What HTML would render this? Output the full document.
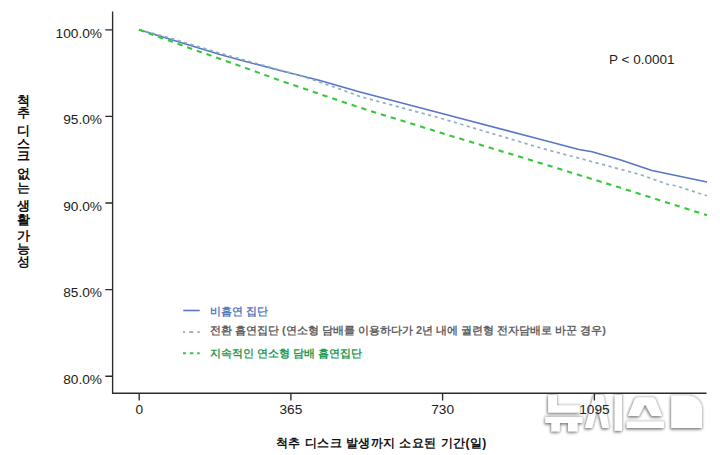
<!DOCTYPE html>
<html><head><meta charset="utf-8">
<style>
html,body{margin:0;padding:0;background:#fff;}
body{width:720px;height:455px;position:relative;overflow:hidden;font-family:"Liberation Sans",sans-serif;color:#222;}
.t{position:absolute;white-space:nowrap;line-height:1;}
.yl{font-size:13.7px;text-align:right;width:60px;left:42px;}
.xl{font-size:13.7px;text-align:center;width:60px;}
.vc{position:absolute;left:16.3px;font-size:12.8px;font-weight:bold;line-height:1;width:14px;text-align:center;color:#111;}
.lg{position:absolute;left:210px;font-size:11px;font-weight:bold;white-space:nowrap;line-height:1;transform-origin:0 0;}
svg{position:absolute;left:0;top:0;}
</style></head><body>
<svg width="720" height="455" viewBox="0 0 720 455">
  <defs><filter id="sh" x="-20%" y="-30%" width="140%" height="160%"><feGaussianBlur in="SourceAlpha" stdDeviation="1.6"/><feOffset dx="-1" dy="1.6" result="b"/><feFlood flood-color="#000" flood-opacity="0.33"/><feComposite in2="b" operator="in" result="s1"/><feMorphology in="SourceAlpha" operator="dilate" radius="0.6"/><feGaussianBlur stdDeviation="0.9" result="g"/><feFlood flood-color="#000" flood-opacity="0.26"/><feComposite in2="g" operator="in" result="s2"/><feMerge><feMergeNode in="s1"/><feMergeNode in="s2"/><feMergeNode in="SourceGraphic"/></feMerge></filter></defs>
  <g fill="#fff" filter="url(#sh)">
    <path d="M548.2 395 H557 V405.4 H579.6 V412.5 H548.2 Z"/>
    <path d="M545.5 417 H582.3 V423 H577.4 V431.2 H568 V423 H559.8 V431.2 H551.5 V423 H545.5 Z"/>
    <path d="M585 428 L593.5 396.5 Q594 395 596 395 H601 Q603 395 603.5 396.5 L609 428 H602.5 L597.5 407 L592 428 Z"/>
    <path d="M614.8 395 H622 V430.7 H614.8 Z"/>
    <path d="M628.1 416.1 L635 399 Q636.2 397.4 638 397.4 H652 Q653.8 397.4 655 399 L661.9 416.1 H651.9 L645 404.3 L638.8 416.1 Z"/>
    <path d="M626.9 421.8 H663.8 V428 H626.9 Z"/>
    <path d="M671.3 395.8 H687.5 A14.5 14.5 0 0 1 702 410.3 V428 H671.3 Z"/>
  </g>
  <g stroke="#2b2b2b" stroke-width="1.35" fill="none">
    <path d="M112.6 11.6 V393.8 M111.95 393.2 H706.5"/>
    <path d="M105.3 29.8 H112.6 M105.3 116.4 H112.6 M105.3 203 H112.6 M105.3 289.6 H112.6 M105.3 376.2 H112.6"/>
    <path d="M139.2 393.2 V400.5 M290.9 393.2 V400.5 M442.6 393.2 V400.5 M594.4 393.2 V400.5"/>
  </g>
  <!-- blue solid -->
  <polyline fill="none" stroke="#5876c6" stroke-width="1.55" stroke-linejoin="round"
    points="139.2,29.7 180,42.3 220,54.6 240,59.9 280,70.6 320,80.6 360,92.1 440,113.1 540,139.2 579,149.5 592,151.8 620,159.7 640,166.5 652,170.6 707,181.9"/>
  <!-- dotted light blue/gray -->
  <polyline fill="none" stroke="#93afc0" stroke-width="1.7" stroke-dasharray="3.2 3.5"
    points="139,29.5 168,37.4 220,53.2 300,75.6 320,82.2 340,89.1 360,96.5 440,118 540,147.8 640,174.5 668,184.5 676,185.8 707,195.8"/>
  <!-- green dashed -->
  <polyline fill="none" stroke="#35c83a" stroke-width="2.1" stroke-dasharray="5.3 4.95"
    points="139,29.7 168,40.3 187,47.2 236,64.5 280,80.5 360,107.7 440,132.5 540,163 620,187.6 707,215.3"/>
  <!-- legend lines -->
  <path d="M183.3 310.5 H199.7" stroke="#5876c6" stroke-width="1.6" />
  <path d="M183 332.2 H199.7" stroke="#98a8b0" stroke-width="1.7" stroke-dasharray="4 4.2" stroke-dashoffset="2"/>
  <path d="M183 353.2 H199.7" stroke="#35c83a" stroke-width="2" stroke-dasharray="3.5 3.8" stroke-dashoffset="0.5"/>
</svg>

<div class="t yl" style="top:26.5px;">100.0%</div>
<div class="t yl" style="top:113.1px;">95.0%</div>
<div class="t yl" style="top:199.7px;">90.0%</div>
<div class="t yl" style="top:286.3px;">85.0%</div>
<div class="t yl" style="top:372.9px;">80.0%</div>

<div class="t xl" style="left:109.2px;top:402.5px;">0</div>
<div class="t xl" style="left:260.9px;top:402.5px;">365</div>
<div class="t xl" style="left:412.6px;top:402.5px;">730</div>
<div class="t xl" style="left:564.4px;top:402.5px;">1095</div>

<div class="t" style="left:609px;top:53.3px;font-size:13.5px;">P &lt; 0.0001</div>

<div class="t" style="left:276px;top:436.5px;font-size:12px;letter-spacing:0.45px;font-weight:bold;color:#111;">척추 디스크 발생까지 소요된 기간(일)</div>

<div class="vc" style="top:94.8px">척</div>
<div class="vc" style="top:106.8px">추</div>
<div class="vc" style="top:124.8px">디</div>
<div class="vc" style="top:137.8px">스</div>
<div class="vc" style="top:149.8px">크</div>
<div class="vc" style="top:167.8px">없</div>
<div class="vc" style="top:181.8px">는</div>
<div class="vc" style="top:199.8px">생</div>
<div class="vc" style="top:213.8px">활</div>
<div class="vc" style="top:229.8px">가</div>
<div class="vc" style="top:242.8px">능</div>
<div class="vc" style="top:255.8px">성</div>

<div class="lg" style="top:306px;color:#5a7dbd;">비흡연 집단</div>
<div class="lg" style="top:325px;color:#636363;">전환 흡연집단 (연소형 담배를 이용하다가 2년 내에 궐련형 전자담배로 바꾼 경우)</div>
<div class="lg" style="top:348px;color:#279a55;">지속적인 연소형 담배 흡연집단</div>

</body></html>
